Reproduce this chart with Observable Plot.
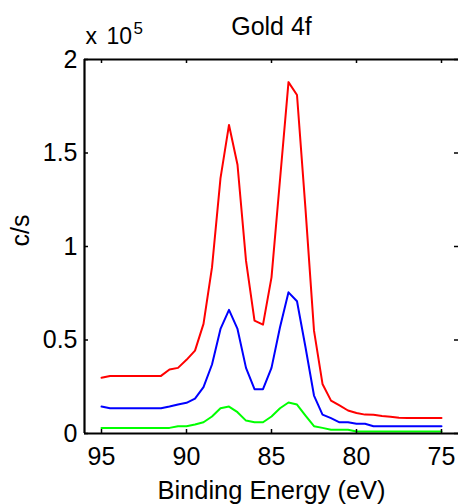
<!DOCTYPE html>
<html>
<head>
<meta charset="utf-8">
<script src="https://cdn.jsdelivr.net/npm/d3@7"></script>
<script src="https://cdn.jsdelivr.net/npm/@observablehq/plot@0.6"></script>
<style>
  html, body { margin: 0; padding: 0; background: #fff; }
  svg { display: block; }
</style>
</head>
<body>
<div id="chart"></div>
<script>
// Binding energy (eV), 0.5 eV steps
const energy = [95, 94.5, 94, 93.5, 93, 92.5, 92, 91.5, 91, 90.5, 90, 89.5, 89, 88.5, 88, 87.5, 87, 86.5, 86, 85.5, 85,
                84.5, 84, 83.5, 83, 82.5, 82, 81.5, 81, 80.5, 80, 79.5, 79, 78.5, 78, 77.5, 77, 76.5, 76, 75.5, 75];
// counts per second
const redSeries = [29800, 30800, 30800, 30800, 30800, 30800, 30800, 30800, 34200, 35100, 39400, 44300, 58600, 88800, 136600,
                   165000, 143700, 92400, 60400, 58200, 83500, 135700, 187900, 181000, 120000, 55000, 26500, 17600, 15000,
                   12300, 11000, 10100, 10000, 9300, 9000, 8400, 8300, 8300, 8300, 8300, 8300];
const blueSeries = [14400, 13500, 13500, 13500, 13500, 13500, 13500, 13500, 14400, 15500, 16400, 18700, 24800, 36900, 55900,
                    66100, 55900, 35100, 23700, 23700, 35100, 56800, 75500, 70700, 46100, 20300, 10100, 8200, 6000,
                    6000, 5200, 5200, 3900, 3900, 3900, 3900, 3900, 3900, 3900, 3900, 3900];
const greenSeries = [3000, 3000, 3000, 3000, 3000, 3000, 3000, 3000, 3000, 3900, 3900, 4800, 6000, 9100, 13500,
                     14400, 11400, 6900, 6000, 6000, 9100, 13500, 16600, 15500, 9600, 3900, 3000, 2000, 2000,
                     2000, 1100, 1100, 1100, 1100, 1100, 1100, 1100, 1100, 1100, 1100, 1100];
const xTicks = [95, 90, 85, 80, 75];
const yTicks = [0, 50000, 100000, 150000, 200000];
const titleText = "Gold 4f";
const xLabel = "Binding Energy (eV)";
const yLabel = "c/s";

const W = 458, H = 504, mL = 84, mR = 0, mT = 59, mB = 71;
const fw = W - mL - mR, fh = H - mT - mB;
const font = "Liberation Sans, Arial, Helvetica, sans-serif";

const red = energy.map((e, i) => ({e, v: redSeries[i]}));
const blue = energy.map((e, i) => ({e, v: blueSeries[i]}));
const green = energy.map((e, i) => ({e, v: greenSeries[i]}));

const chart = Plot.plot({
  width: W, height: H,
  marginLeft: mL, marginRight: mR, marginTop: mT, marginBottom: mB,
  style: {fontFamily: font, background: "#fff", color: "#000"},
  x: {domain: [96, 74]},
  y: {domain: [0, 200000]},
  marks: [
    Plot.line(red, {x: "e", y: "v", stroke: "#ff0000", strokeWidth: 2}),
    Plot.line(blue, {x: "e", y: "v", stroke: "#0000ff", strokeWidth: 2}),
    Plot.line(green, {x: "e", y: "v", stroke: "#00ff00", strokeWidth: 2}),
    // axis lines
    Plot.ruleX([96], {stroke: "#000", strokeWidth: 2.2}),
    Plot.ruleY([0], {stroke: "#000", strokeWidth: 2.2}),
    Plot.ruleY([200000], {stroke: "#000", strokeWidth: 2.2}),
    // inward ticks
    Plot.tickX(xTicks, {x: d => d, insetTop: fh - 4, stroke: "#000", strokeWidth: 1.5}),
    Plot.tickX(xTicks, {x: d => d, insetBottom: fh - 4, stroke: "#000", strokeWidth: 1.5}),
    Plot.tickY(yTicks, {y: d => d, insetRight: fw - 4, stroke: "#000", strokeWidth: 1.5}),
    Plot.tickY(yTicks, {y: d => d, insetLeft: fw - 4, stroke: "#000", strokeWidth: 1.5}),
    // tick labels
    Plot.axisX({ticks: xTicks, tickSize: 0, tickPadding: 14, fontSize: 25, label: null, tickFormat: d => String(d)}),
    Plot.axisY({ticks: yTicks, tickSize: 0, tickPadding: 7, fontSize: 25, label: null, tickFormat: d => String(d / 1e5)}),
    // texts
    Plot.text([titleText], {frameAnchor: "top", lineAnchor: "bottom", dy: -25, fontSize: 25, fill: "#000"}),
    Plot.text([xLabel], {frameAnchor: "bottom", lineAnchor: "bottom", dy: 65, fontSize: 25.5, fill: "#000"}),
    Plot.text([yLabel], {frameAnchor: "left", lineAnchor: "bottom", rotate: -90, dx: -56, fontSize: 25, fill: "#000"}),
    Plot.text(["x"], {frameAnchor: "top-left", textAnchor: "start", lineAnchor: "bottom", dx: 1, dy: -16, fontSize: 23, fill: "#000"}),
    Plot.text(["10"], {frameAnchor: "top-left", textAnchor: "start", lineAnchor: "bottom", dx: 22, dy: -16, fontSize: 23, fill: "#000"}),
    Plot.text(["5"], {frameAnchor: "top-left", textAnchor: "start", lineAnchor: "bottom", dx: 49, dy: -26, fontSize: 17, fill: "#000"})
  ]
});
document.getElementById("chart").appendChild(chart);
</script>
</body>
</html>
